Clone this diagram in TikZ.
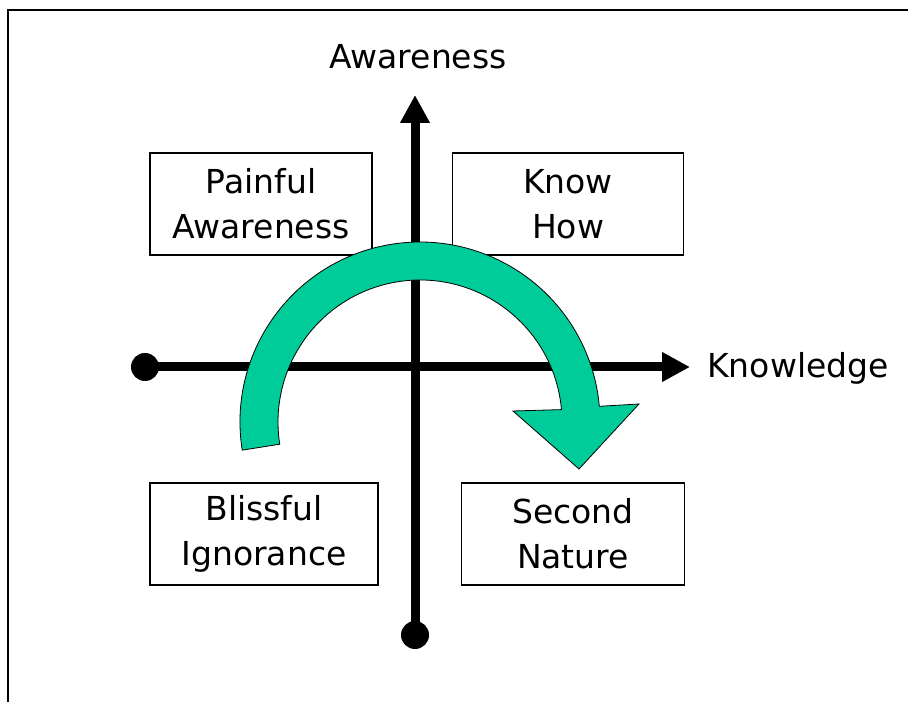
\documentclass[tikz,border=0pt]{standalone}
\usepackage{fontspec}
\setmainfont{DejaVu Sans}
\usetikzlibrary{arrows.meta}
\definecolor{turngreen}{RGB}{0,204,153}
\tikzset{
  quadbox/.style={draw, line width=1.2pt, minimum height=102pt, inner sep=0pt, align=center, font=\fontsize{33}{45}\selectfont},
  axis/.style={line width=9pt, -{Triangle[length=28pt,width=28pt]}},
  axislabel/.style={font=\fontsize{33}{40}\selectfont},
  axisdot/.style={circle, fill, inner sep=0pt, minimum size=28pt}
}

\begin{document}
\begin{tikzpicture}[x=1pt,y=1pt]
\useasboundingbox (0,0) rectangle (908,702);
\draw[line width=2pt] (8,0) -- (8,692) -- (908,692);

\node[quadbox, minimum width=222pt] (painful) at (261,498) {Painful\\Awareness};
\node[quadbox, minimum width=231pt] (knowhow) at (568,498) {Know\\How};
\node[quadbox, minimum width=228pt] (blissful) at (264,168) {Blissful\\Ignorance};
\node[quadbox, minimum width=223pt] (second) at (573,168) {Second\\Nature};

\node[axisdot] (kstart) at (145,335) {};
\coordinate (kend) at (690,335);
\draw[axis] (kstart.center) -- (kend);
\node[axisdot] (astart) at (415,67) {};
\coordinate (aend) at (415,607);
\draw[axis] (astart.center) -- (aend);

\node[axislabel] (awareness) at (418,645) {Awareness};
\node[axislabel] (knowledge) at (798,334) {Knowledge};

\coordinate (turn) at (420,280);
\filldraw[fill=turngreen, draw=black, line width=0.8pt]
  ([shift={(189:180)}]turn) arc[start angle=189, end angle=5, radius=180]
  -- (639,298) -- (579,233) -- (513,291)
  -- ([shift={(5:142)}]turn) arc[start angle=5, end angle=189, radius=142] -- cycle;
\end{tikzpicture}
\end{document}
